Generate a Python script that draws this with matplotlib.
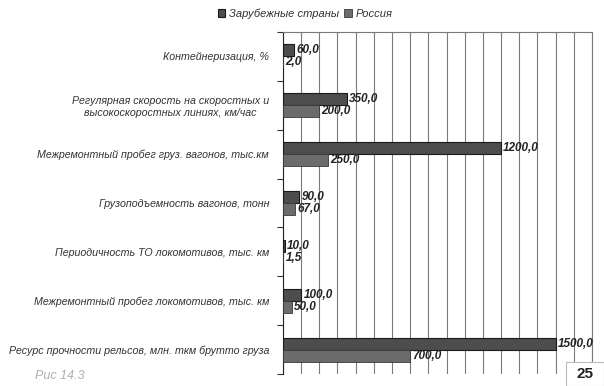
import numpy as np
import matplotlib.pyplot as plt
from matplotlib.patches import Rectangle

plt.rcParams['font.family'] = ['Liberation Sans', 'DejaVu Sans']

#%% data
categories = ['Контейнеризация, %',
              'Регулярная скорость на скоростных и\nвысокоскоростных линиях, км/час',
              'Межремонтный пробег груз. вагонов, тыс.км',
              'Грузоподъемность вагонов, тонн',
              'Периодичность ТО локомотивов, тыс. км',
              'Межремонтный пробег локомотивов, тыс. км',
              'Ресурс прочности рельсов, млн. ткм брутто груза']
foreign = [60.0, 350.0, 1200.0, 90.0, 10.0, 100.0, 1500.0]
russia = [2.0, 200.0, 250.0, 67.0, 1.5, 50.0, 700.0]
series_names = ['Зарубежные страны', 'Россия']

#%% plot
fig = plt.figure(figsize=(6.04, 3.86), dpi=100)
ax = fig.add_axes([0.4685, 0.031, 0.5115, 0.886])

y = np.arange(len(categories))
h = 0.245
b1 = ax.barh(y - h/2, foreign, height=h, color='#4d4d4d', edgecolor='#1a1a1a', lw=0.8,
             label=series_names[0], zorder=3)
b2 = ax.barh(y + h/2, russia, height=h, color='#6b6b6b', edgecolor='#3a3a3a', lw=0.6,
             label=series_names[1], zorder=3)

def fmt(v):
    return ('%.1f' % v).replace('.', ',')

for i in range(len(categories)):
    ax.text(foreign[i] + 12, y[i] - h/2, fmt(foreign[i]), va='center', ha='left',
            fontsize=8.5, fontweight='bold', fontstyle='italic', color='#222222')
    ax.text(russia[i] + 12, y[i] + h/2, fmt(russia[i]), va='center', ha='left',
            fontsize=8.5, fontweight='bold', fontstyle='italic', color='#222222')

ax.set_xlim(0, 1700)
ax.set_ylim(len(categories) - 0.5, -0.5)
ax.set_xticks(np.arange(0, 1701, 100))
ax.tick_params(axis='x', length=0, labelbottom=False)
ax.grid(axis='x', color='#7a7a7a', lw=0.8, zorder=0)

ax.set_yticks(np.arange(-0.5, len(categories) + 0.5, 1.0))
ax.set_yticklabels([])
ax.set_yticks(y, minor=True)
ax.set_yticklabels(categories, minor=True, fontsize=7.7, fontstyle='italic',
                   color='#333333', ha='right')
ax.tick_params(axis='y', which='major', length=4, direction='out', color='#333333')
ax.tick_params(axis='y', which='minor', length=0, pad=10)
for t in ax.get_yticklabels(minor=True):
    t.set_multialignment('center')

ax.spines['bottom'].set_visible(False)
ax.spines['right'].set_color('#7a7a7a')
ax.spines['top'].set_color('#7a7a7a')
ax.spines['left'].set_color('#222222')

fig.legend(handles=[b1, b2], labels=series_names, loc='center', bbox_to_anchor=(0.505, 0.965),
           ncol=2, frameon=False, prop={'size': 8, 'style': 'italic'},
           handlelength=0.7, handleheight=0.7, handletextpad=0.3, columnspacing=0.5,
           labelcolor='#333333')

fig.text(0.058, 0.018, 'Рис 14.3', fontsize=9, color='#b0b0b0', fontstyle='italic')
fig.patches.append(Rectangle((0.937, 0.0), 0.063, 0.062, transform=fig.transFigure,
                             facecolor='white', edgecolor='#bbbbbb', lw=0.8))
fig.text(0.968, 0.03, '25', fontsize=11, fontweight='bold', ha='center', va='center',
         color='#222222')

fig.savefig('out.png', dpi=100)
plt.close()
